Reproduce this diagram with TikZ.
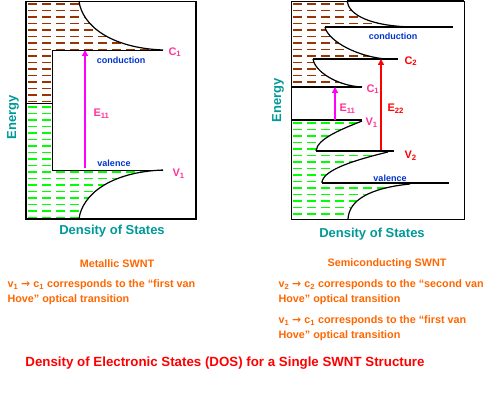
\documentclass[tikz,border=0pt]{standalone}
\usepackage{fontspec}
\setmainfont{Liberation Sans}
\newfontfamily\arrowfont{DejaVu Sans}
\usetikzlibrary{arrows.meta}
\definecolor{dosbrown}{RGB}{153,51,0}
\definecolor{dosgreen}{RGB}{0,255,0}
\definecolor{dosteal}{RGB}{0,153,153}
\definecolor{dosblue}{RGB}{0,51,204}
\definecolor{dosorange}{RGB}{255,102,0}
\definecolor{dospink}{RGB}{255,51,153}
\definecolor{dosmagenta}{RGB}{255,0,255}
\definecolor{dosred}{RGB}{255,0,0}
\tikzset{
  box/.style={draw=black, line width=1.2pt},
  level/.style={draw=black, line width=1.8pt},
  edge/.style={draw=black, line width=0.8pt},
  dos/.style={draw=black, line width=1.2pt},
  fillrow/.style={line width=1.3pt, dash pattern=on 9pt off 5pt},
  band/.style={font=\bfseries\fontsize{9}{9}\selectfont, text=dosblue},
  axis/.style={font=\bfseries\fontsize{13}{13}\selectfont, text=dosteal},
  peak/.style={font=\bfseries\fontsize{11}{11}\selectfont, anchor=west},
  gap/.style={-{Triangle[length=6pt,width=6pt]}, line width=2pt},
  note/.style={font=\bfseries\fontsize{10.8}{10.8}\selectfont, text=dosorange, anchor=west},
}
\begin{document}
\begin{tikzpicture}[x=1pt,y=-1pt]
\useasboundingbox (0,0) rectangle (500,406);

% ---- metallic SWNT ----
\begin{scope}
  \clip (26,1) -- (79,1) .. controls (82,25) and (110,48) .. (163,50) -- (52,50) -- (52,103) -- (26,103) -- cycle;
  \foreach \y in {4,10.5,...,103} \draw[fillrow,dosbrown] (28,\y) -- (196,\y);
\end{scope}
\begin{scope}
  \clip (26,103) -- (52,103) -- (52,170) -- (163,170) .. controls (110,172) and (82,195) .. (79,219) -- (26,219) -- cycle;
  \foreach \y in {107,113.5,...,219} \draw[fillrow,dosgreen] (28,\y) -- (196,\y);
\end{scope}
\draw[dos] (79,1) .. controls (82,25) and (110,48) .. (163,50);
\draw[dos] (163,170) .. controls (110,172) and (82,195) .. (79,219);
\draw[edge] (163,50) -- (52,50) -- (52,170) -- (163,170);
\draw[edge] (26,103) -- (52,103);
\draw[box] (26,1.5) rectangle (196,219);

\coordinate (mv1) at (85,168);
\coordinate (mc1) at (85,50);
\draw[gap,dosmagenta,line width=2.6pt] (mv1) -- (mc1);

\node[band] (mcond) at (121,60) {conduction};
\node[band] (mval) at (114,163) {valence};
\node[peak,text=dospink] (mE11) at (90,114) {E\textsubscript{11}};
\node[peak,text=dospink] (mC1) at (165,52) {C\textsubscript{1}};
\node[peak,text=dospink] (mV1) at (169,174) {V\textsubscript{1}};
\node[axis,rotate=90] (mE) at (13,117) {Energy};
\node[axis] (mD) at (112,231) {Density of States};

% ---- semiconducting SWNT ----
\begin{scope}
  \clip (291,1) -- (347,1) .. controls (349,15) and (370,26) .. (412,27) -- (325,27)
    .. controls (327,38) and (350,55) .. (385,59) -- (313,59)
    .. controls (315,72) and (338,86) .. (362,87) -- (291,87) -- cycle;
  \foreach \y in {4,10.5,...,87} \draw[fillrow,dosbrown] (293,\y) -- (464,\y);
\end{scope}
\begin{scope}
  \clip (291,120) -- (362,121) .. controls (345,128) and (317,138) .. (316,151) -- (388,152)
    .. controls (355,160) and (322,170) .. (322,183) -- (410,184)
    .. controls (370,188) and (349,200) .. (348,219) -- (291,219) -- cycle;
  \foreach \y in {123,129.5,...,219} \draw[fillrow,dosgreen] (293,\y) -- (464,\y);
\end{scope}
\draw[dos] (347,1) .. controls (349,15) and (370,26) .. (412,27);
\draw[dos] (325,27) .. controls (327,38) and (350,55) .. (385,59);
\draw[dos] (313,59) .. controls (315,72) and (338,86) .. (362,87);
\draw[dos] (362,121) .. controls (345,128) and (317,138) .. (316,151);
\draw[dos] (388,152) .. controls (355,160) and (322,170) .. (322,183);
\draw[dos] (410,184) .. controls (370,188) and (349,200) .. (348,219);
\draw[level] (325,27) -- (453,27);
\draw[level] (313,59) -- (398,59);
\draw[edge,line width=1.1pt] (291,87) -- (362,87);
\draw[level] (291,120) -- (362,120);
\draw[level] (316,151) -- (394,151);
\draw[level] (322,183) -- (449,183);
\draw[edge] (291,1) rectangle (464,219);
\draw[level] (347,1) -- (464,1);

\coordinate (sv1) at (335,120);
\coordinate (sc1) at (335,87);
\coordinate (sv2) at (381,150);
\coordinate (sc2) at (381,59);
\draw[gap,dosmagenta] (sv1) -- (sc1);
\draw[gap,dosred] (sv2) -- (sc2);

\node[band] (scond) at (393,36) {conduction};
\node[band] (sval) at (390,178) {valence};
\node[peak,text=dosred] (sC2) at (401,61) {C\textsubscript{2}};
\node[peak,text=dospink] (sC1) at (363,89) {C\textsubscript{1}};
\node[peak,text=dospink] (sE11) at (336,109) {E\textsubscript{11}};
\node[peak,text=dosred] (sE22) at (384,109) {E\textsubscript{22}};
\node[peak,text=dospink] (sV1) at (362,123) {V\textsubscript{1}};
\node[peak,text=dosred] (sV2) at (401,156) {V\textsubscript{2}};
\node[axis,rotate=90] (sE) at (278,100) {Energy};
\node[axis] (sD) at (372,234) {Density of States};

% ---- captions ----
\node[note,anchor=center] (mtitle) at (117,264) {Metallic SWNT};
\node[note] (mline1) at (4,285) {v\textsubscript{1} {\arrowfont→} c\textsubscript{1} corresponds to the “first van};
\node[note] (mline2) at (4,300) {Hove” optical transition};
\node[note,anchor=center] (stitle) at (387,264) {Semiconducting SWNT};
\node[note] (sline1) at (275,285) {v\textsubscript{2} {\arrowfont→} c\textsubscript{2} corresponds to the “second van};
\node[note] (sline2) at (275,300) {Hove” optical transition};
\node[note] (sline3) at (275,321) {v\textsubscript{1} {\arrowfont→} c\textsubscript{1} corresponds to the “first van};
\node[note] (sline4) at (275,336) {Hove” optical transition};
\node[font=\bfseries\fontsize{13.3}{13.3}\selectfont, text=dosred] (title) at (225,363)
  {Density of Electronic States (DOS) for a Single SWNT Structure};
\end{tikzpicture}
\end{document}
